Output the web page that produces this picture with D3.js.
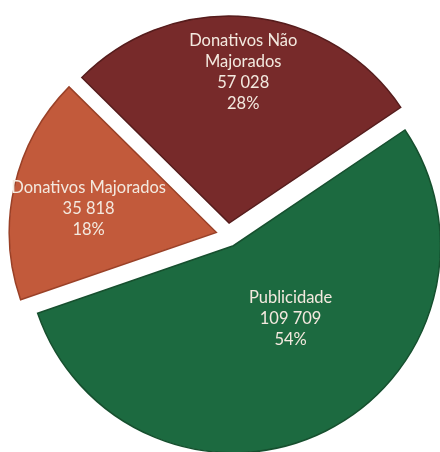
<!DOCTYPE html>
<html>
<head>
<meta charset="utf-8">
<script src="https://cdn.jsdelivr.net/npm/d3@7"></script>
<style>
  html, body { margin: 0; padding: 0; background: #ffffff; }
  svg { display: block; }
</style>
</head>
<body>
<svg id="chart" width="440" height="452"></svg>
<script>
// Revenue sources
const categories = ["Publicidade", "Donativos Majorados", "Donativos Não Majorados"];
const values = [109709, 35818, 57028];
const valueLabels = ["109 709", "35 818", "57 028"];
const percentLabels = ["54%", "18%", "28%"];

const colors = ["#1f6a40", "#c25a3b", "#772b2b"];
const edgeColors = ["#15502f", "#9a4128", "#561c1c"];

const width = 440, height = 452;
const cx = 228, cy = 235, radius = 207, explode = 12;

const svg = d3.select("#chart");

const defs = svg.append("defs");
defs.append("filter").attr("id", "soft")
  .append("feGaussianBlur").attr("stdDeviation", 0.55);

const pie = d3.pie()
  .sort(null)
  .startAngle(56 * Math.PI / 180)
  .endAngle(56 * Math.PI / 180 + 2 * Math.PI);

const arc = d3.arc().innerRadius(0).outerRadius(radius);

const arcs = pie(values);

const g = svg.append("g")
  .attr("transform", `translate(${cx},${cy})`)
  .attr("filter", "url(#soft)");

const slice = g.selectAll("g.slice")
  .data(arcs)
  .join("g")
  .attr("class", "slice")
  .attr("transform", d => {
    const a = (d.startAngle + d.endAngle) / 2;
    return `translate(${Math.sin(a) * explode},${-Math.cos(a) * explode})`;
  });

slice.append("path")
  .attr("d", arc)
  .attr("fill", (d, i) => colors[i])
  .attr("stroke", (d, i) => edgeColors[i])
  .attr("stroke-width", 1.5);

// label placement: radius and angle shift along each slice
const labelPlace = [
  { r: 92, shift: -12 },
  { r: 130, shift: -2 },
  { r: 152, shift: 0 }
];

slice.each(function(d, i) {
  const a = (d.startAngle + d.endAngle) / 2 + labelPlace[i].shift * Math.PI / 180;
  const x = Math.sin(a) * labelPlace[i].r;
  const y = -Math.cos(a) * labelPlace[i].r;
  let lines;
  if (i === 2) lines = ["Donativos Não", "Majorados", valueLabels[i], percentLabels[i]];
  else lines = [categories[i], valueLabels[i], percentLabels[i]];
  const lh = 21;
  const t = d3.select(this).append("text")
    .attr("text-anchor", "middle")
    .attr("font-family", "Lato, 'Open Sans', sans-serif")
    .attr("font-size", 16.5)
    .attr("fill", "#f3e9df");
  lines.forEach((s, k) => {
    t.append("tspan")
      .attr("x", x)
      .attr("y", y + (k - (lines.length - 1) / 2) * lh + 6)
      .text(s);
  });
});
</script>
</body>
</html>
